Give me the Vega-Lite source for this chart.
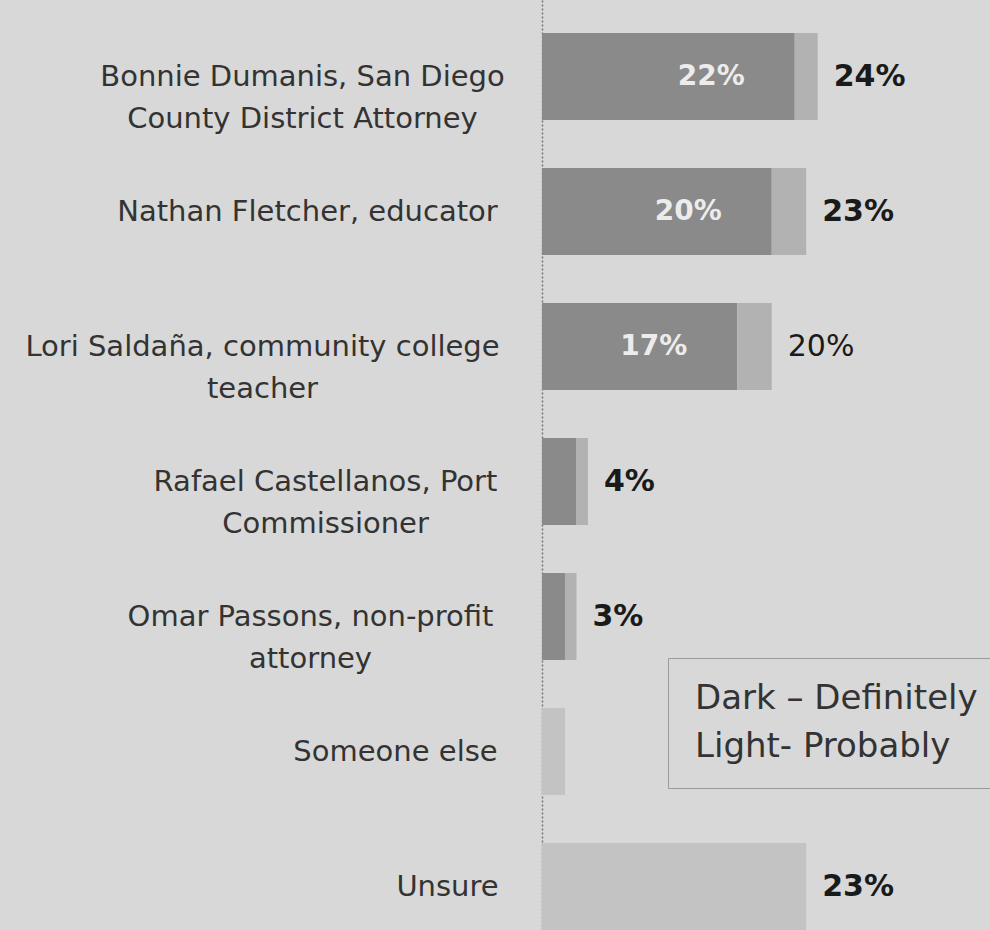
{
  "$schema": "https://vega.github.io/schema/vega-lite/v6.json",
  "width": 448,
  "height": 930,
  "autosize": {"type": "none"},
  "padding": {"left": 542, "top": 0, "right": 0, "bottom": 0},
  "background": "#d8d8d8",
  "config": {"view": {"stroke": null}, "font": "DejaVu Sans"},
  "data": {
    "values": [
      {"candidate": "Bonnie Dumanis, San Diego|County District Attorney", "type": "Dark – Definitely", "pct": 0.22},
      {"candidate": "Bonnie Dumanis, San Diego|County District Attorney", "type": "Light- Probably", "pct": 0.02},
      {"candidate": "Nathan Fletcher, educator", "type": "Dark – Definitely", "pct": 0.20},
      {"candidate": "Nathan Fletcher, educator", "type": "Light- Probably", "pct": 0.03},
      {"candidate": "Lori Saldaña, community college|teacher", "type": "Dark – Definitely", "pct": 0.17},
      {"candidate": "Lori Saldaña, community college|teacher", "type": "Light- Probably", "pct": 0.03},
      {"candidate": "Rafael Castellanos, Port|Commissioner", "type": "Dark – Definitely", "pct": 0.03},
      {"candidate": "Rafael Castellanos, Port|Commissioner", "type": "Light- Probably", "pct": 0.01},
      {"candidate": "Omar Passons, non-profit|attorney", "type": "Dark – Definitely", "pct": 0.02},
      {"candidate": "Omar Passons, non-profit|attorney", "type": "Light- Probably", "pct": 0.01},
      {"candidate": "Someone else", "type": "Other", "pct": 0.02},
      {"candidate": "Unsure", "type": "Other", "pct": 0.23}
    ]
  },
  "encoding": {
    "y": {
      "field": "candidate",
      "type": "nominal",
      "sort": null,
      "scale": {"paddingInner": 0.356, "paddingOuter": 0.1225, "align": 1},
      "axis": {
        "title": null,
        "ticks": false,
        "domain": true,
        "domainColor": "#777777",
        "domainDash": [2, 2],
        "domainWidth": 1.5,
        "labelExpr": "split(datum.label, '|')",
        "labelFont": "DejaVu Sans",
        "labelFontSize": 29,
        "labelColor": "#333333",
        "labelAlign": "center",
        "labelBaseline": "middle",
        "labelLineHeight": 42,
        "labelLimit": 0,
        "labelPadding": {"expr": "indexof(datum.value,'Bonnie')>=0 ? 240 : indexof(datum.value,'Nathan')>=0 ? 235 : indexof(datum.value,'Lori')>=0 ? 280 : indexof(datum.value,'Rafael')>=0 ? 217 : indexof(datum.value,'Omar')>=0 ? 232 : indexof(datum.value,'Someone')>=0 ? 147 : 95"}
      }
    }
  },
  "layer": [
    {
      "mark": {"type": "bar"},
      "encoding": {
        "x": {"field": "pct", "type": "quantitative", "aggregate": "sum", "stack": "zero", "scale": {"domain": [0, 0.39], "nice": false}, "axis": null},
        "color": {
          "field": "type",
          "type": "nominal",
          "scale": {"domain": ["Dark – Definitely", "Light- Probably", "Other"], "range": ["#8a8a8a", "#b2b2b2", "#c3c3c3"]},
          "legend": {
            "orient": "none",
            "legendX": 126,
            "legendY": 658,
            "title": null,
            "values": ["Dark – Definitely", "Light- Probably"],
            "symbolSize": 0,
            "symbolStrokeWidth": 0,
            "symbolOpacity": 0,
            "labelFont": "DejaVu Sans",
            "labelFontSize": 34,
            "labelColor": "#333333",
            "labelOffset": -31,
            "labelLimit": 0,
            "padding": 24,
            "rowPadding": 14,
            "strokeColor": "#9a9a9a"
          }
        }
      }
    },
    {
      "transform": [{"filter": "datum.type == 'Dark – Definitely' && datum.pct >= 0.1"}],
      "mark": {"type": "text", "align": "right", "baseline": "middle", "dx": -50, "fontSize": 28, "fontWeight": "bold", "color": "#ececec"},
      "encoding": {
        "x": {"field": "pct", "type": "quantitative"},
        "text": {"field": "pct", "type": "quantitative", "format": ".0%"}
      }
    },
    {
      "transform": [
        {"aggregate": [{"op": "sum", "field": "pct", "as": "total"}], "groupby": ["candidate"]},
        {"filter": "datum.candidate != 'Someone else'"}
      ],
      "mark": {"type": "text", "align": "left", "baseline": "middle", "dx": 16, "fontSize": 30, "fontWeight": {"expr": "indexof(datum.candidate,'Lori') >= 0 ? 'normal' : 'bold'"}, "color": "#1a1a1a"},
      "encoding": {
        "x": {"field": "total", "type": "quantitative"},
        "text": {"field": "total", "type": "quantitative", "format": ".0%"}
      }
    }
  ]
}
